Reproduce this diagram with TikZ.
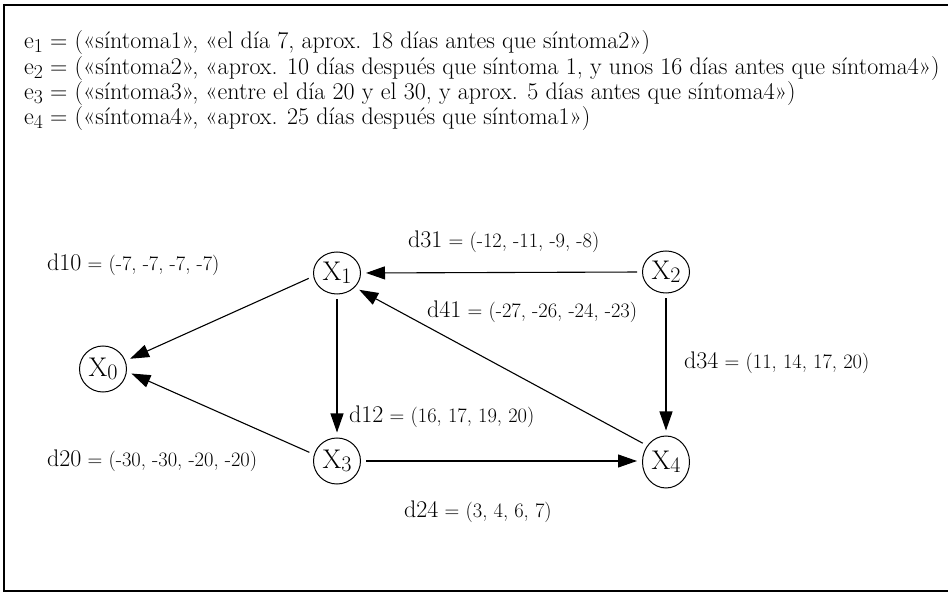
\documentclass[tikz,border=0pt]{standalone}
\usepackage{fontspec}
\usetikzlibrary{arrows.meta,shapes.geometric}
\newcommand{\subd}[1]{\raisebox{-0.3ex}{\scalebox{0.82}{#1}}}
\newcommand{\dn}[1]{{\fontsize{24}{24}\selectfont d#1}}
\tikzset{
  vnode/.style={draw, line width=1pt, ellipse, inner sep=0pt, minimum width=47pt, minimum height=42pt, font=\fontsize{27}{27}\selectfont},
  lbl/.style={anchor=base west, inner sep=0pt, font=\fontsize{20.5}{20.5}\selectfont},
  arr/.style={-{Triangle[length=19pt,width=13pt]}, line width=1.1pt, shorten >=5pt, shorten <=5pt},
  etext/.style={anchor=base west, inner sep=0pt, font=\fontsize{24}{24}\selectfont}
}
\begin{document}
\begin{tikzpicture}[x=1pt,y=-1pt]
\useasboundingbox (0,0) rectangle (948,593);
\fill[white] (0,0) rectangle (948,593);
\draw[line width=2.5pt] (4,5) -- (948,5);
\draw[line width=1.3pt] (4,4) -- (4,591) -- (948,591);
% text lines
\node[etext] (e1) at (24,49) {e\subd{1} = («síntoma1», «el día 7, aprox. 18 días antes que síntoma2»)};
\node[etext] (e2) at (24,75) {e\subd{2} = («síntoma2», «aprox. 10 días después que síntoma 1, y unos 16 días antes que síntoma4»)};
\node[etext] (e3) at (24,100) {e\subd{3} = («síntoma3», «entre el día 20 y el 30, y aprox. 5 días antes que síntoma4»)};
\node[etext] (e4) at (24,125) {e\subd{4} = («síntoma4», «aprox. 25 días después que síntoma1»)};
% nodes
\node[vnode] (x1) at (337,273) {X\subd{1}};
\node[vnode] (x2) at (666,272) {X\subd{2}};
\node[vnode, minimum height=46pt] (x0) at (103,369) {X\subd{0}};
\node[vnode, minimum height=46pt] (x3) at (337,461) {X\subd{3}};
\node[vnode, minimum height=52pt] (x4) at (666,462) {X\subd{4}};
% arrows
\draw[arr] (x2.west) -- (x1.east);
\draw[arr] (x1.188) -- (x0.20);
\draw[arr] (x1.south) -- (x3.north);
\draw[arr] (x3.164) -- (x0.354);
\draw[arr] (x4.139) -- (x1.321);
\draw[arr] (x2.south) -- (x4.north);
\draw[arr] (x3.east) -- (x3.east -| x4.west);
% labels
\node[lbl] (d31) at (408,248) {\dn{31} = (-12, -11, -9, -8)};
\node[lbl] (d10) at (47,271) {\dn{10} = (-7, -7, -7, -7)};
\node[lbl] (d41) at (427,318) {\dn{41} = (-27, -26, -24, -23)};
\node[lbl] (d34) at (684,369) {\dn{34} = (11, 14, 17, 20)};
\node[lbl] (d12) at (349,423) {\dn{12} = (16, 17, 19, 20)};
\node[lbl] (d20) at (47,466) {\dn{20} = (-30, -30, -20, -20)};
\node[lbl] (d24) at (404,517) {\dn{24} = (3, 4, 6, 7)};
\end{tikzpicture}
\end{document}
